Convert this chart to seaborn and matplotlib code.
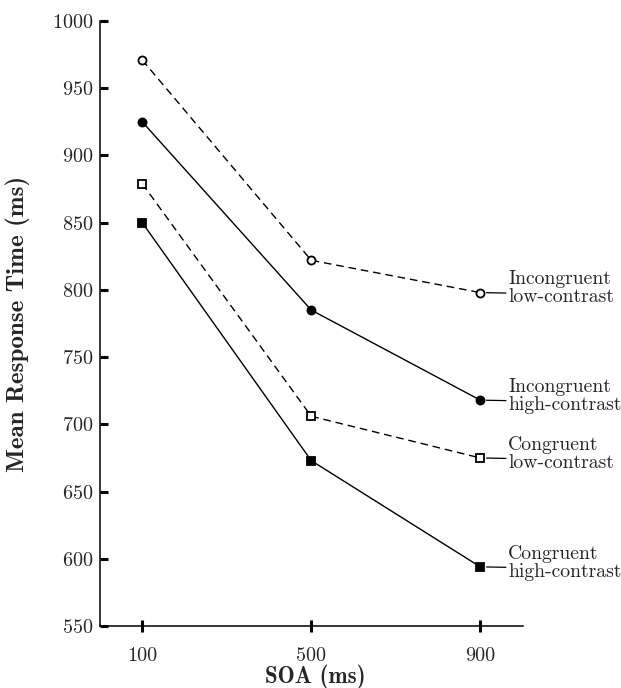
import matplotlib
matplotlib.use("Agg")
import matplotlib.pyplot as plt
import seaborn as sns
import pandas as pd

soa = [100, 500, 900]
soa_labels = ["100", "500", "900"]
incong_low = [971, 822, 798]
incong_high = [925, 785, 718]
cong_low = [879, 706, 675]
cong_high = [850, 673, 594]
series_names = ["Incongruent\nlow-contrast", "Incongruent\nhigh-contrast",
                "Congruent\nlow-contrast", "Congruent\nhigh-contrast"]

sns.set_theme(style="white")
plt.rcParams['font.family'] = ['cmr10', 'DejaVu Serif']
plt.rcParams['axes.formatter.use_mathtext'] = True

fig = plt.figure(figsize=(6.21, 6.88), dpi=100)
ax = fig.add_axes([100/621, 1-626/688, 422.5/621, 605/688])

styles = [
    (incong_low, "o", "white", (0, (5.5, 3.5))),
    (incong_high, "o", "black", "-"),
    (cong_low, "s", "white", (0, (5.5, 3.5))),
    (cong_high, "s", "black", "-"),
]
for (vals, mk, fc, ls), name in zip(styles, series_names):
    df = pd.DataFrame({"soa": soa, "rt": vals})
    sns.lineplot(data=df, x="soa", y="rt", ax=ax, color="black", lw=1.0,
                 linestyle=ls, marker=mk, markersize=5.8 if mk == "o" else 5.5,
                 markerfacecolor=fc, markeredgecolor="black", markeredgewidth=1.3)
    ax.annotate(name, xy=(soa[-1], vals[-1]), xytext=(20, 3), textcoords="offset points",
                ha="left", va="center", fontsize=14.2, linespacing=1.0,
                family="cmr10",
                arrowprops=dict(arrowstyle="-", color="black", lw=0.9,
                                shrinkA=1.5, shrinkB=4.5, patchA=None,
                                relpos=(0, 0.37)))

ax.set_xlim(0, 1000)
ax.set_ylim(550, 1000)
ax.set_xticks(soa)
ax.set_xticklabels(soa_labels)
ax.set_yticks(range(550, 1001, 50))
for s in ["top", "right"]:
    ax.spines[s].set_visible(False)
for s in ["left", "bottom"]:
    ax.spines[s].set_color("black")
    ax.spines[s].set_linewidth(1.1)
ax.tick_params(axis="y", direction="in", length=6, width=2.2, color="black",
               labelsize=14.5, pad=5, left=True)
ax.tick_params(axis="x", direction="inout", length=8, width=2.2, color="black",
               labelsize=14.5, pad=11, bottom=True)
for lab in ax.get_xticklabels() + ax.get_yticklabels():
    lab.set_family("cmr10")
ax.set_xlabel("SOA (ms)", family="cmb10", fontsize=16.5, va="baseline")
ax.xaxis.set_label_coords(0.51, -(683 - 626) / 605)
ax.set_ylabel("Mean Response Time (ms)", family="cmb10", fontsize=18, va="center")
ax.yaxis.set_label_coords(-(100 - 17.5) / 422.5, 0.5)

fig.savefig("out.png", dpi=100)
